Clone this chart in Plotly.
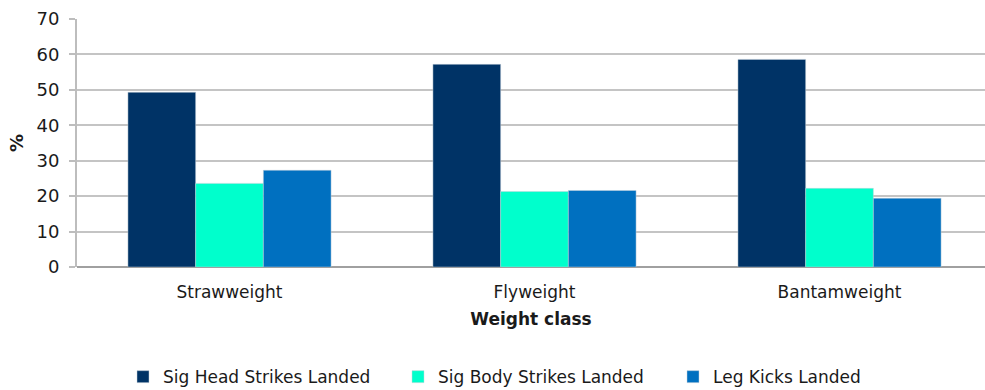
import plotly.graph_objects as go

categories = ["Strawweight", "Flyweight", "Bantamweight"]
head = [49.3, 57.2, 58.6]
body = [23.6, 21.3, 22.2]
leg = [27.3, 21.6, 19.4]
series_names = ["Sig Head Strikes Landed", "Sig Body Strikes Landed", "Leg Kicks Landed"]
colors = ["#003366", "#00FFCC", "#0070C0"]

FONT = "DejaVu Sans"

fig = go.Figure()
for name, vals, col in zip(series_names, [head, body, leg], colors):
    fig.add_trace(go.Bar(
        x=categories, y=vals, name=name,
        marker=dict(color=col, line=dict(color="rgba(200,210,220,0.6)", width=0.8)),
    ))

fig.update_layout(
    width=985, height=390,
    margin=dict(l=77, r=0, t=19, b=123, autoexpand=False),
    paper_bgcolor="white", plot_bgcolor="white",
    barmode="group", bargap=0.334, bargroupgap=0,
    font=dict(family=FONT, size=17, color="#1a1a1a"),
    xaxis=dict(
        range=[-0.5, 2.477], automargin=False,
        showgrid=False, showline=False, ticks="",
        ticklabelstandoff=13,
        tickfont=dict(family=FONT, size=17, color="#1a1a1a"),
        title=dict(text="<b>Weight class</b>", font=dict(family=FONT, size=17, color="#1a1a1a"), standoff=12),
    ),
    yaxis=dict(
        range=[0, 70], dtick=10, automargin=False,
        showgrid=True, gridcolor="#c4c4c4", gridwidth=2,
        showline=True, linecolor="#bdbdbd", linewidth=2,
        ticks="outside", ticklen=6, tickcolor="#bdbdbd", tickwidth=2,
        ticklabelstandoff=6,
        zeroline=True, zerolinecolor="#a0a0a0", zerolinewidth=2,
        tickfont=dict(family=FONT, size=18, color="#1a1a1a"),
        title=dict(text="<b>%</b>", font=dict(family=FONT, size=18, color="#1a1a1a"), standoff=8),
    ),
    legend=dict(
        orientation="h", xanchor="left", x=(123 - 77) / 908, yanchor="middle", y=-0.444,
        font=dict(family=FONT, size=17, color="#1a1a1a"),
        itemwidth=30, tracegroupgap=0,
        entrywidth=230, entrywidthmode="pixels",
    ),
    showlegend=True,
)

fig.write_html("out.html")
